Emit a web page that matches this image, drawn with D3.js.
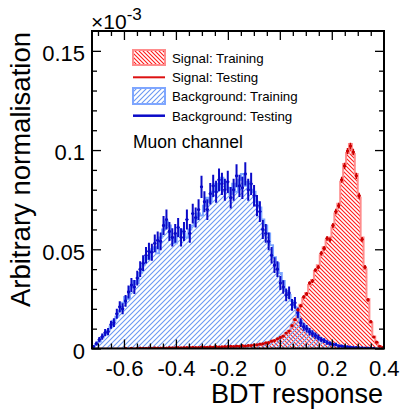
<!DOCTYPE html>
<html><head><meta charset="utf-8">
<script src="https://cdn.jsdelivr.net/npm/d3@7"></script>
<style>body{margin:0;background:#fff}svg{display:block}text{font-family:"Liberation Sans",Arial,Helvetica,sans-serif;fill:#000}</style>
</head><body><svg id="c" width="401" height="409"></svg>
<script>
// binning of the BDT response axis
const xMin = -0.723, xMax = 0.401, nBins = 100;
const xTicks = [-0.6, -0.4, -0.2, 0, 0.2, 0.4];
const xMinorTicks = [-0.7,-0.65,-0.55,-0.5,-0.45,-0.35,-0.3,-0.25,-0.15,-0.1,-0.05,0.05,0.1,0.15,0.25,0.3,0.35];
const yTicks = [0, 0.05, 0.1, 0.15];
const yMinorTicks = [0.01,0.02,0.03,0.04,0.06,0.07,0.08,0.09,0.11,0.12,0.13,0.14];
const legendLabels = ["Signal: Training","Signal: Testing","Background: Training","Background: Testing"];

const sigTrain = [
0,0,0,0,0,0,0,0,0,0,
0,0,0.0001,0,0.0001,0.0001,0.0001,0.0001,0.0002,0.0001,
0.0002,0.0002,0.0002,0.0003,0.0002,0.0003,0.0003,0.0003,0.0004,0.0003,
0.0004,0.0004,0.0005,0.0004,0.0005,0.0005,0.0006,0.0005,0.0006,0.0007,
0.0007,0.0007,0.0008,0.0008,0.0009,0.0009,0.0010,0.0010,0.0011,0.0011,
0.0012,0.0013,0.0013,0.0014,0.0016,0.0017,0.0019,0.0021,0.0024,0.0027,
0.0031,0.0035,0.0041,0.0047,0.0054,0.0064,0.0075,0.0090,0.0110,0.0150,
0.0190,0.0220,0.0255,0.0280,0.0320,0.0345,0.0390,0.0420,0.0470,0.0510,
0.0545,0.0560,0.0610,0.0680,0.0730,0.0840,0.0930,0.0985,0.1030,0.0980,
0.0880,0.0760,0.0560,0.0400,0.0250,0.0130,0.0060,0.0030,0.0012,0.0004];

const sigTest = [
0,0,0,0,0,0,0,0,0,0,
0,0.0001,0,0.0001,0,0.0001,0.0002,0.0001,0.0001,0.0002,
0.0001,0.0003,0.0002,0.0002,0.0003,0.0002,0.0004,0.0003,0.0003,0.0005,
0.0003,0.0005,0.0004,0.0005,0.0006,0.0004,0.0005,0.0007,0.0006,0.0006,
0.0008,0.0006,0.0009,0.0007,0.0008,0.0010,0.0009,0.0011,0.0010,0.0012,
0.0011,0.0014,0.0012,0.0015,0.0015,0.0018,0.0018,0.0022,0.0023,0.0028,
0.0030,0.0037,0.0040,0.0049,0.0056,0.0062,0.0078,0.0088,0.0115,0.0145,
0.0195,0.0215,0.0260,0.0275,0.0330,0.0340,0.0395,0.0410,0.0480,0.0505,
0.0555,0.0548,0.0620,0.0690,0.0720,0.0850,0.0920,0.0995,0.1020,0.0990,
0.0870,0.0770,0.0550,0.0410,0.0245,0.0135,0.0058,0.0032,0.0011,0.0004];

const sigErr = [
0,0,0,0,0,0,0,0,0,0,
0,0.0001,0,0.0001,0,0.0001,0.0001,0.0001,0.0001,0.0001,
0.0001,0.0001,0.0001,0.0001,0.0001,0.0001,0.0001,0.0001,0.0001,0.0001,
0.0001,0.0001,0.0001,0.0001,0.0001,0.0001,0.0001,0.0001,0.0001,0.0001,
0.0001,0.0001,0.0002,0.0001,0.0002,0.0002,0.0002,0.0002,0.0002,0.0002,
0.0002,0.0002,0.0002,0.0002,0.0002,0.0002,0.0002,0.0003,0.0003,0.0003,
0.0003,0.0003,0.0003,0.0004,0.0004,0.0004,0.0005,0.0005,0.0006,0.0006,
0.0007,0.0008,0.0008,0.0009,0.0009,0.0010,0.0010,0.0011,0.0011,0.0012,
0.0012,0.0012,0.0013,0.0014,0.0014,0.0015,0.0016,0.0016,0.0017,0.0016,
0.0016,0.0015,0.0012,0.0011,0.0008,0.0006,0.0004,0.0003,0.0002,0.0001];

const bkgTrain = [
0.0008,0.0020,0.0035,0.0055,0.0070,0.0090,0.0110,0.0140,0.0160,0.0190,
0.0230,0.0260,0.0250,0.0310,0.0340,0.0330,0.0380,0.0420,0.0460,0.0450,
0.0500,0.0510,0.0480,0.0560,0.0600,0.0640,0.0620,0.0560,0.0530,0.0570,
0.0600,0.0580,0.0560,0.0600,0.0620,0.0650,0.0680,0.0670,0.0720,0.0760,
0.0740,0.0790,0.0830,0.0800,0.0860,0.0840,0.0810,0.0780,0.0830,0.0790,
0.0850,0.0880,0.0820,0.0840,0.0800,0.0790,0.0740,0.0710,0.0650,0.0620,
0.0580,0.0520,0.0460,0.0430,0.0380,0.0340,0.0290,0.0270,0.0240,0.0210,
0.0170,0.0140,0.0120,0.0105,0.0090,0.0080,0.0070,0.0058,0.0048,0.0040,
0.0034,0.0028,0.0022,0.0018,0.0015,0.0012,0.0010,0.0009,0.0008,0.0006,
0.0005,0.0004,0.0003,0.0003,0.0002,0.0002,0.0001,0.0001,0.0001,0];

const bkgTest = [
0.0010,0.0025,0.0045,0.0060,0.0080,0.0085,0.0120,0.0130,0.0175,0.0210,
0.0200,0.0240,0.0285,0.0320,0.0310,0.0355,0.0400,0.0430,0.0470,0.0490,
0.0485,0.0530,0.0545,0.0540,0.0620,0.0650,0.0590,0.0560,0.0580,0.0610,
0.0560,0.0590,0.0650,0.0580,0.0680,0.0660,0.0700,0.0815,0.0740,0.0700,
0.0780,0.0820,0.0790,0.0850,0.0830,0.0800,0.0840,0.0760,0.0800,0.0870,
0.0820,0.0810,0.0880,0.0800,0.0830,0.0770,0.0720,0.0690,0.0600,0.0580,
0.0540,0.0470,0.0420,0.0400,0.0330,0.0310,0.0270,0.0280,0.0220,0.0230,
0.0180,0.0130,0.0110,0.0100,0.0085,0.0075,0.0065,0.0055,0.0045,0.0040,
0.0030,0.0025,0.0020,0.0020,0.0012,0.0012,0.0010,0.0008,0.0007,0.0005,
0.0005,0.0003,0.0003,0.0002,0.0002,0.0001,0.0001,0,0,0];

const bkgErr = [
0.0006,0.0010,0.0013,0.0016,0.0018,0.0018,0.0020,0.0022,0.0025,0.0028,
0.0028,0.0030,0.0033,0.0035,0.0035,0.0037,0.0040,0.0040,0.0042,0.0043,
0.0043,0.0045,0.0045,0.0045,0.0048,0.0050,0.0048,0.0046,0.0047,0.0048,
0.0046,0.0048,0.0050,0.0047,0.0050,0.0050,0.0052,0.0056,0.0053,0.0052,
0.0054,0.0056,0.0055,0.0057,0.0056,0.0055,0.0056,0.0054,0.0055,0.0058,
0.0056,0.0056,0.0058,0.0055,0.0056,0.0054,0.0053,0.0052,0.0048,0.0047,
0.0045,0.0042,0.0040,0.0040,0.0035,0.0034,0.0032,0.0032,0.0030,0.0030,
0.0026,0.0022,0.0020,0.0019,0.0018,0.0017,0.0016,0.0015,0.0013,0.0012,
0.0011,0.0010,0.0009,0.0009,0.0007,0.0007,0.0006,0.0006,0.0005,0.0004,
0.0004,0.0003,0.0003,0.0003,0.0002,0.0002,0.0002,0,0,0];

const W = 401, H = 409;
const L = 92, R = 384, T = 31, B = 348.5;
const svg = d3.select("#c");
svg.append("rect").attr("width",W).attr("height",H).attr("fill","#fff");

const x = d3.scaleLinear().domain([xMin, xMax]).range([L, R]);
const y = d3.scaleLinear().domain([0, 0.16]).range([B, T]);
const edges = d3.range(nBins + 1).map(i => xMin + i * (xMax - xMin) / nBins);

// hatch patterns
const defs = svg.append("defs");
const pr = defs.append("pattern").attr("id","hr").attr("patternUnits","userSpaceOnUse").attr("width",4).attr("height",4);
pr.append("path").attr("d","M-1,-1 l6,6 M-1,3 l2,2 M3,-1 l2,2").attr("stroke","#ff1a1a").attr("stroke-width",1.1);
const pb = defs.append("pattern").attr("id","hb").attr("patternUnits","userSpaceOnUse").attr("width",5).attr("height",5);
pb.append("path").attr("d","M-1,1 l2,-2 M0,5 l5,-5 M4,6 l2,-2").attr("stroke","#6a98f2").attr("stroke-width",1.1);

const clip = defs.append("clipPath").attr("id","fr");
clip.append("rect").attr("x",L).attr("y",T).attr("width",R-L).attr("height",B-T);

const g = svg.append("g").attr("clip-path","url(#fr)");

function stepPts(vals){
  const p = [[edges[0],0]];
  vals.forEach((v,i)=>{ p.push([edges[i],v]); p.push([edges[i+1],v]); });
  p.push([edges[nBins],0]);
  return p;
}
const area = d3.area().x(d=>x(d[0])).y0(B).y1(d=>y(d[1]));
const line = d3.line().x(d=>x(d[0])).y(d=>y(d[1]));

function drawHist(vals, pat, col){
  const p = stepPts(vals);
  g.append("path").attr("d",area(p)).attr("fill",`url(#${pat})`);
  g.append("path").attr("d",line(p)).attr("fill","none").attr("stroke",col).attr("stroke-width",2);
}
drawHist(sigTrain,"hr","#ff8c8c");
drawHist(bkgTrain,"hb","#7ea6ff");

function drawPoints(vals, errs, col, wv){
  const pts = vals.map((v,i)=>({c:(edges[i]+edges[i+1])/2, l:edges[i], r:edges[i+1], v, e:errs[i]})).filter(d=>d.v>0);
  const gp = g.append("g");
  gp.selectAll(".ev").data(pts).join("line")
    .attr("x1",d=>x(d.c)).attr("x2",d=>x(d.c))
    .attr("y1",d=>y(d.v+d.e)).attr("y2",d=>y(Math.max(0,d.v-d.e)))
    .attr("stroke",col).attr("stroke-width",wv);
  gp.selectAll(".eh").data(pts).join("line")
    .attr("x1",d=>x(d.l)).attr("x2",d=>x(d.r))
    .attr("y1",d=>y(d.v)).attr("y2",d=>y(d.v))
    .attr("stroke",col).attr("stroke-width",1);
  gp.selectAll("circle").data(pts).join("circle")
    .attr("cx",d=>x(d.c)).attr("cy",d=>y(d.v)).attr("r",1.6).attr("fill",col);
}
drawPoints(bkgTest,bkgErr,"#0a0ac8",2);
drawPoints(sigTest,sigErr,"#cc0000",1.5);

// frame
svg.append("rect").attr("x",L).attr("y",T).attr("width",R-L).attr("height",B-T)
  .attr("fill","none").attr("stroke","#000").attr("stroke-width",2);

const fmt = d => d === 0 ? "0" : String(d);
function ax(gen, tr){ const a = svg.append("g").attr("transform",tr).call(gen); a.select(".domain").remove(); a.selectAll("line").attr("stroke","#000").attr("stroke-width",1.3); return a; }
const fs = 22;
const bx = ax(d3.axisBottom(x).tickValues(xTicks).tickSize(-9).tickPadding(12).tickFormat(fmt), `translate(0,${B})`);
ax(d3.axisBottom(x).tickValues(xMinorTicks).tickSize(-5).tickFormat(""), `translate(0,${B})`);
ax(d3.axisTop(x).tickValues(xTicks).tickSize(-9).tickFormat(""), `translate(0,${T})`);
ax(d3.axisTop(x).tickValues(xMinorTicks).tickSize(-5).tickFormat(""), `translate(0,${T})`);
const ly = ax(d3.axisLeft(y).tickValues(yTicks).tickSize(-9).tickPadding(7).tickFormat(fmt), `translate(${L},0)`);
ax(d3.axisLeft(y).tickValues(yMinorTicks).tickSize(-5).tickFormat(""), `translate(${L},0)`);
ax(d3.axisRight(y).tickValues(yTicks).tickSize(-9).tickFormat(""), `translate(${R},0)`);
ax(d3.axisRight(y).tickValues(yMinorTicks).tickSize(-5).tickFormat(""), `translate(${R},0)`);
svg.selectAll(".tick text").attr("font-size",fs).attr("font-family","Liberation Sans, Arial, sans-serif").attr("fill","#000");
ly.selectAll(".tick text").attr("dy","0.45em");

// axis titles
svg.append("text").attr("x",383).attr("y",403).attr("text-anchor","end").attr("font-size",27).text("BDT response");
svg.append("text").attr("transform","translate(29.5,32) rotate(-90)").attr("text-anchor","end").attr("font-size",27.5).text("Arbitrary normalisation");

// exponent
const ex = svg.append("text").attr("x",91).attr("y",28.5).attr("font-size",21);
ex.append("tspan").text("×10");
ex.append("tspan").attr("dy",-9).attr("font-size",17).text("-3");

// legend
const lg = svg.append("g");
const rowY = [57.5, 77.3, 96, 115.7];
lg.append("rect").attr("x",133).attr("y",rowY[0]-7.5).attr("width",32).attr("height",15).attr("fill","url(#hr)").attr("stroke","#ff8c8c").attr("stroke-width",2);
lg.append("line").attr("x1",133).attr("x2",165).attr("y1",rowY[1]).attr("y2",rowY[1]).attr("stroke","#dd1111").attr("stroke-width",2);
lg.append("rect").attr("x",133).attr("y",rowY[2]-8).attr("width",32).attr("height",16).attr("fill","url(#hb)").attr("stroke","#7ea6ff").attr("stroke-width",2);
lg.append("line").attr("x1",133).attr("x2",165).attr("y1",rowY[3]).attr("y2",rowY[3]).attr("stroke","#0a0ac8").attr("stroke-width",2.5);
legendLabels.forEach((t,i)=>{
  lg.append("text").attr("x",172).attr("y",rowY[i]+5).attr("font-size",13.3).text(t);
});
svg.append("text").attr("x",133).attr("y",148.3).attr("font-size",17.5).text("Muon channel");
</script></body></html>
